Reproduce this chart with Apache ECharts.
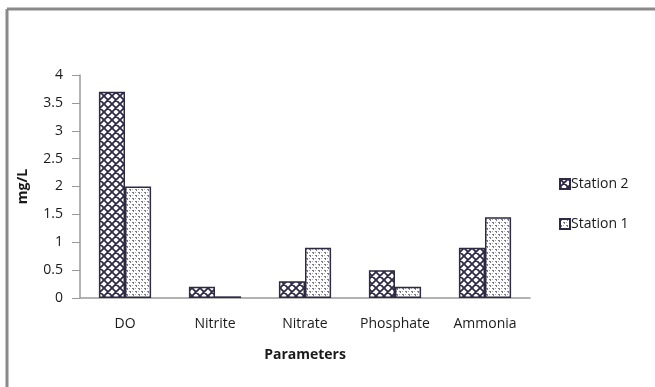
<!DOCTYPE html>
<html><head><meta charset="utf-8">
<script src="https://cdn.jsdelivr.net/npm/echarts@6/dist/echarts.min.js"></script>
<style>html,body{margin:0;padding:0;background:#fff}#c{width:655px;height:387px}</style>
</head><body><div id="c"></div>
<script>
const categories = ['DO', 'Nitrite', 'Nitrate', 'Phosphate', 'Ammonia'];
const station2 = [3.7, 0.2, 0.3, 0.5, 0.9];
const station1 = [2.0, 0.03, 0.9, 0.2, 1.45];
const yTicks = [0, 0.5, 1, 1.5, 2, 2.5, 3, 3.5, 4];

function crossPattern() {
  const c = document.createElement('canvas');
  c.width = 8; c.height = 8;
  const g = c.getContext('2d');
  g.fillStyle = '#fff'; g.fillRect(0, 0, 8, 8);
  g.strokeStyle = '#2e2a44'; g.lineWidth = 1.8;
  g.beginPath();
  g.moveTo(-1, -1); g.lineTo(9, 9);
  g.moveTo(-1, 9); g.lineTo(9, -1);
  g.moveTo(7, -1); g.lineTo(9, 1);
  g.moveTo(-1, 7); g.lineTo(1, 9);
  g.moveTo(-1, 1); g.lineTo(1, -1);
  g.moveTo(7, 9); g.lineTo(9, 7);
  g.stroke();
  return c;
}
function dotPattern() {
  const c = document.createElement('canvas');
  c.width = 6; c.height = 6;
  const g = c.getContext('2d');
  g.fillStyle = '#fff'; g.fillRect(0, 0, 6, 6);
  g.fillStyle = '#7c7a8a';
  g.fillRect(0, 0, 2, 1); g.fillRect(1, 1, 1, 1);
  g.fillRect(3, 3, 2, 1); g.fillRect(4, 4, 1, 1);
  g.fillStyle = '#aeacba';
  g.fillRect(3, 0, 1, 1); g.fillRect(0, 3, 1, 1);
  return c;
}
const p2 = { image: crossPattern(), repeat: 'repeat' };
const p1 = { image: dotPattern(), repeat: 'repeat' };

const chart = echarts.init(document.getElementById('c'));
const font = '"Open Sans", Lato, sans-serif';
chart.setOption({
  animation: false,
  textStyle: { fontFamily: font },
  graphic: [
    { type: 'line', shape: { x1: 7, y1: 9, x2: 655, y2: 9 }, style: { stroke: '#8a8a8a', lineWidth: 3 } },
    { type: 'line', shape: { x1: 7, y1: 9, x2: 7, y2: 387 }, style: { stroke: '#8a8a8a', lineWidth: 3 } }
  ],
  grid: { left: 80, right: 125, top: 75, bottom: 89 },
  legend: {
    orient: 'vertical', left: 554, top: 172, itemGap: 26,
    itemWidth: 10, itemHeight: 10, icon: 'rect',
    textStyle: { fontSize: 14, color: '#1a1a1a', fontFamily: font, padding: [0, 0, 0, -4] },
    data: ['Station 2', 'Station 1']
  },
  xAxis: {
    type: 'category', data: categories,
    name: 'Parameters', nameLocation: 'middle', nameGap: 50,
    nameTextStyle: { fontSize: 14, fontWeight: 'bold', color: '#1a1a1a', fontFamily: font },
    axisLine: { lineStyle: { color: '#999', width: 1.5 } },
    axisTick: { show: false },
    axisLabel: { interval: 0, fontSize: 14, color: '#1a1a1a', margin: 19, fontFamily: font }
  },
  yAxis: {
    type: 'value', min: 0, max: 4, interval: 0.5,
    name: 'mg/L', nameLocation: 'middle', nameGap: 50, nameRotate: 90,
    nameTextStyle: { fontSize: 14, fontWeight: 'bold', color: '#1a1a1a', fontFamily: font },
    splitLine: { show: false },
    axisLine: { show: true, lineStyle: { color: '#999', width: 1.5 } },
    axisTick: { show: true, length: 8, lineStyle: { color: '#999' } },
    axisLabel: { fontSize: 14, color: '#1a1a1a', margin: 17, fontFamily: font,
      formatter: v => yTicks.includes(v) ? String(v) : '' }
  },
  series: [
    { name: 'Station 2', type: 'bar', data: station2, barGap: '0%', barCategoryGap: '42%',
      itemStyle: { color: p2, borderColor: '#2e2a44', borderWidth: 1.5 } },
    { name: 'Station 1', type: 'bar', data: station1, barGap: '0%', barCategoryGap: '42%',
      itemStyle: { color: p1, borderColor: '#2e2a44', borderWidth: 1.5 } }
  ]
});
</script></body></html>
